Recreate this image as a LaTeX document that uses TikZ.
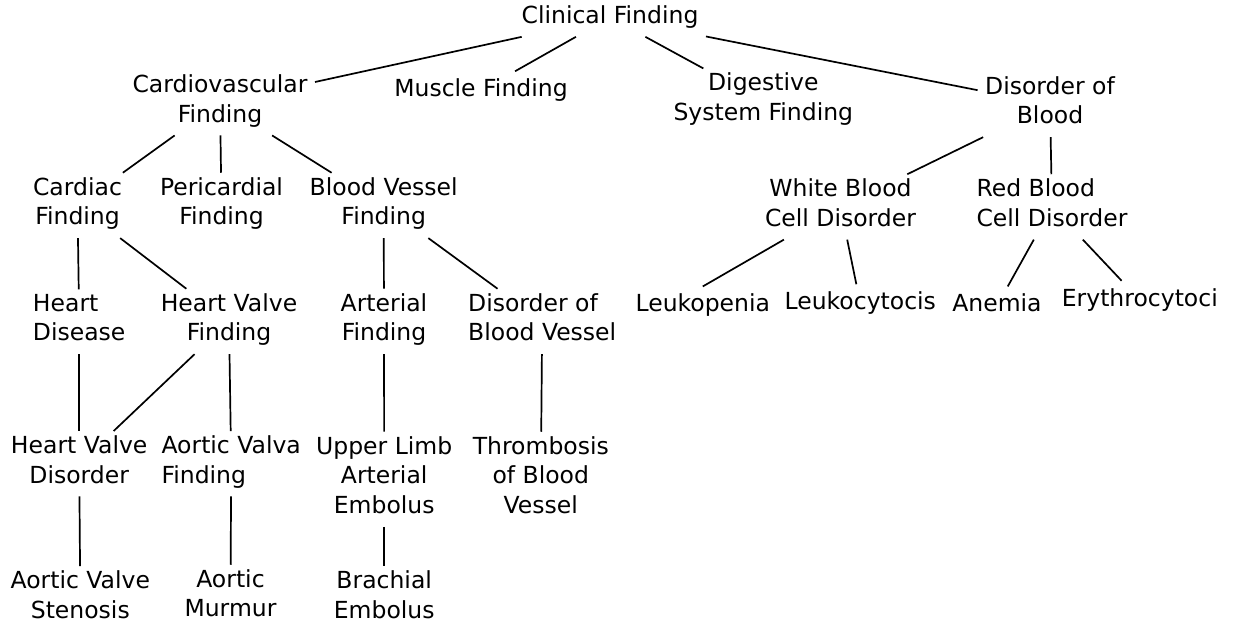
\documentclass[tikz,border=0pt]{standalone}
\usepackage{fontspec}
\setmainfont{DejaVu Sans}
\usepackage{tikz}
\usetikzlibrary{positioning}

\begin{document}
\begin{tikzpicture}[x=0.5pt, y=-0.5pt,
		term/.style={anchor=base, align=center, inner xsep=3.6pt, inner ysep=2pt,
			font=\fontsize{11.75}{14.9}\selectfont,
			execute at begin node=\strut, execute at end node=\strut},
		terml/.style={term, align=left},
		edge/.style={line width=0.85pt}]
	\useasboundingbox (0,0) rectangle (1237,626);
	\node[term] (cf) at (610,23.5) {Clinical Finding};
	\node[term] (cv) at (220,122.1) {Cardiovascular\\Finding};
	\node[term] (mf) at (481,96.5) {Muscle Finding};
	\node[term] (dsf) at (763.3,120.5) {Digestive\\System Finding};
	\node[term] (dob) at (1050,123.8) {Disorder of\\Blood};
	\node[term] (cardiac) at (77.5,224.8) {Cardiac\\Finding};
	\node[term] (peri) at (221.5,224.8) {Pericardial\\Finding};
	\node[term] (bvf) at (383.7,224.8) {Blood Vessel\\Finding};
	\node[term] (wbc) at (840.5,226.3) {White Blood\\Cell Disorder};
	\node[terml] (rbc) at (1052,226.3) {Red Blood\\Cell Disorder};
	\node[terml] (hd) at (79.2,340.8) {Heart\\Disease};
	\node[term] (hvf) at (229,340.8) {Heart Valve\\Finding};
	\node[term] (af) at (384,340.8) {Arterial\\Finding};
	\node[terml] (dbv) at (542.2,340.8) {Disorder of\\Blood Vessel};
	\node[term] (leukop) at (702.8,311.7) {Leukopenia};
	\node[term] (leukoc) at (860.3,309.5) {Leukocytocis};
	\node[term] (anemia) at (997,311.7) {Anemia};
	\node[term] (ery) at (1139.8,306) {Erythrocytoci};
	\node[term] (hvd) at (79.2,483.1) {Heart Valve\\Disorder};
	\node[terml] (avf) at (231.2,483.1) {Aortic Valva\\Finding};
	\node[term] (ula) at (384.2,513.6) {Upper Limb\\Arterial\\Embolus};
	\node[term] (tbv) at (540.8,513.6) {Thrombosis\\of Blood\\Vessel};
	\node[term] (avs) at (80.3,618.1) {Aortic Valve\\Stenosis};
	\node[term] (am) at (230.5,616.8) {Aortic\\Murmur};
	\node[term] (be) at (384.2,618.1) {Brachial\\Embolus};
	\draw[edge] (cf) -- (cv);
	\draw[edge] (cf) -- (mf);
	\draw[edge] (cf) -- (dsf);
	\draw[edge] (cf) -- (dob);
	\draw[edge] (cv) -- (cardiac);
	\draw[edge] (cv) -- (peri);
	\draw[edge] (cv) -- (bvf);
	\draw[edge] (dob) -- (wbc);
	\draw[edge] (dob) -- (rbc);
	\draw[edge] (cardiac) -- (hd);
	\draw[edge] (cardiac) -- (hvf);
	\draw[edge] (bvf) -- (af);
	\draw[edge] (bvf) -- (dbv);
	\draw[edge] (wbc) -- (leukop.north);
	\draw[edge] (wbc) -- (leukoc);
	\draw[edge] (rbc) -- (anemia);
	\draw[edge] (rbc) -- (ery);
	\draw[edge] (hd) -- (hvd);
	\draw[edge] (hvf) -- (hvd);
	\draw[edge] (hvf) -- (avf);
	\draw[edge] (af) -- (ula);
	\draw[edge] (dbv) -- (tbv);
	\draw[edge] (hvd) -- (avs);
	\draw[edge] (avf) -- (am);
	\draw[edge] (ula) -- (be);
\end{tikzpicture}
\end{document}
